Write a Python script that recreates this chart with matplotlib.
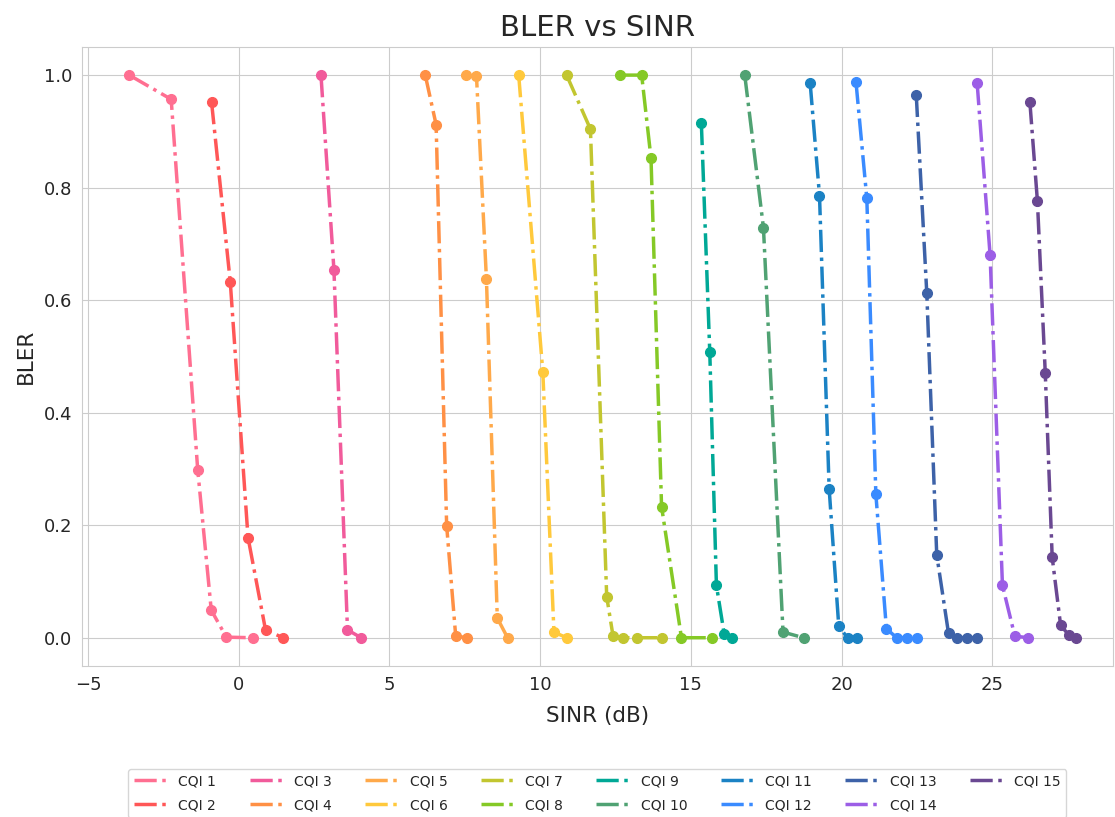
import matplotlib
matplotlib.use("Agg")
import matplotlib.pyplot as plt
from matplotlib.lines import Line2D
import seaborn as sns

sns.set_style("whitegrid")
plt.rcParams['font.family'] = ['DejaVu Sans']

cqi_labels = ["CQI %d" % i for i in range(1, 16)]

sinr = [
    [-3.63, -2.24, -1.36, -0.91, -0.41, 0.47],
    [-0.90, -0.28, 0.31, 0.89, 1.47],
    [2.73, 3.16, 3.61, 4.06],
    [6.19, 6.55, 6.90, 7.20, 7.56],
    [7.53, 7.89, 8.22, 8.58, 8.92],
    [9.29, 10.09, 10.46, 10.88],
    [10.88, 11.67, 12.21, 12.42, 12.75, 13.21, 14.03],
    [12.64, 13.37, 13.68, 14.03, 14.69, 15.69],
    [15.35, 15.63, 15.85, 16.11, 16.38],
    [16.79, 17.41, 18.06, 18.74],
    [18.96, 19.27, 19.59, 19.91, 20.20, 20.53],
    [20.48, 20.84, 21.14, 21.49, 21.83, 22.16, 22.49],
    [22.48, 22.83, 23.16, 23.55, 23.84, 24.18, 24.51],
    [24.50, 24.93, 25.34, 25.75, 26.18],
    [26.25, 26.50, 26.76, 26.99, 27.27, 27.54, 27.77],
]

bler = [
    [1.0, 0.957, 0.299, 0.049, 0.001, 0.0],
    [0.952, 0.633, 0.178, 0.014, 0.0],
    [1.0, 0.654, 0.014, 0.0],
    [1.0, 0.912, 0.199, 0.003, 0.0],
    [1.0, 0.998, 0.637, 0.035, 0.0],
    [1.0, 0.473, 0.010, 0.0],
    [1.0, 0.904, 0.073, 0.003, 0.0, 0.0, 0.0],
    [1.0, 1.0, 0.852, 0.233, 0.0, 0.0],
    [0.915, 0.507, 0.093, 0.006, 0.0],
    [1.0, 0.729, 0.010, 0.0],
    [0.986, 0.786, 0.265, 0.020, 0.0, 0.0],
    [0.988, 0.781, 0.255, 0.016, 0.0, 0.0, 0.0],
    [0.965, 0.612, 0.147, 0.008, 0.0, 0.0, 0.0],
    [0.986, 0.680, 0.093, 0.003, 0.0],
    [0.952, 0.776, 0.471, 0.143, 0.022, 0.005, 0.0],
]

colors = ["#ff6f91", "#ff5757", "#f15b9b", "#ff9045", "#ffa94a",
          "#ffc93c", "#c2c630", "#85c926", "#00a896", "#50a273",
          "#1b82c4", "#3a8bff", "#3d62a8", "#9c5ee6", "#6a4892"]

fig = plt.figure(figsize=(11.15, 8.17), dpi=100)
ax = fig.add_axes([0.0735, 0.185, 0.9245, 0.7575])

handles = []
for x, y, c, lab in zip(sinr, bler, colors, cqi_labels):
    ax.plot(x, y, linestyle='-.', linewidth=2.5, color=c,
            marker='o', markersize=7)
    handles.append(Line2D([0], [0], color=c, linestyle='-.',
                          linewidth=2.5, label=lab))

ax.set_xlim(-5.2, 29.0)
ax.set_ylim(-0.05, 1.05)
ax.set_title("BLER vs SINR", fontsize=21, pad=8)
ax.set_xlabel("SINR (dB)", fontsize=15.5, labelpad=9)
ax.set_ylabel("BLER", fontsize=15.5, labelpad=6)
ax.tick_params(labelsize=13)

ax.legend(handles=handles, loc='upper center', bbox_to_anchor=(0.5, -0.155),
          ncol=8, fontsize=10, frameon=True, handlelength=2.4,
          columnspacing=2.4, labelspacing=0.7)

fig.savefig("out.png", dpi=100)
